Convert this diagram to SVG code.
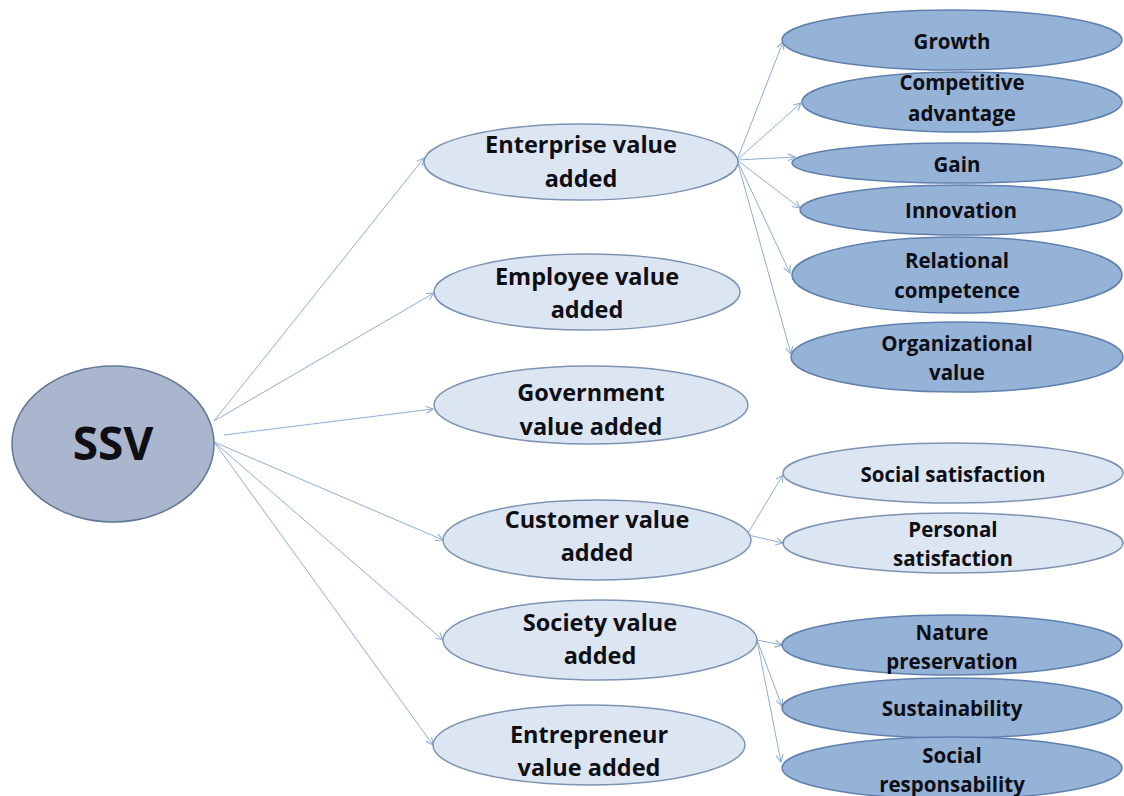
<svg xmlns="http://www.w3.org/2000/svg" width="1124" height="796" viewBox="0 0 1124 796">
  <defs>
    <marker id="arrow" viewBox="0 0 10 10" refX="9" refY="5" markerWidth="9" markerHeight="9" markerUnits="userSpaceOnUse" orient="auto">
      <path d="M1,1 L9,5 L1,9" fill="none" stroke="#8eaed6" stroke-width="1.2"/>
    </marker>
  </defs>
  <style>
    text { font-family: "Open Sans", "Liberation Sans", sans-serif; font-weight: bold; fill: #0e0e14; text-anchor: middle; }
    .root { fill: #a9b6cd; stroke: #617796; stroke-width: 1.5; }
    .mid { fill: #dce6f2; stroke: #7d93b2; stroke-width: 1.5; }
    .leaf { fill: #95b3d7; stroke: #5f7fae; stroke-width: 1.5; }
    .leaf-light { fill: #dce6f2; stroke: #7d93b2; stroke-width: 1.5; }
    .t-root { font-size: 46px; }
    .t-mid { font-size: 23.5px; }
    .t-leaf { font-size: 20.5px; }
    .edge { fill: none; stroke: #8eaed6; stroke-width: 1; marker-end: url(#arrow); }
  </style>
  <rect width="1124" height="796" fill="#ffffff"/>

  <!-- connectors -->
  <g id="connectors">
    <line class="edge" x1="214" y1="421" x2="424" y2="158"/>
    <line class="edge" x1="214" y1="421" x2="434" y2="293"/>
    <line class="edge" x1="224" y1="435" x2="433" y2="409"/>
    <line class="edge" x1="214" y1="442" x2="443" y2="540"/>
    <line class="edge" x1="214" y1="442" x2="443" y2="640"/>
    <line class="edge" x1="214" y1="442" x2="433" y2="745"/>

    <line class="edge" x1="737" y1="160" x2="783" y2="42"/>
    <line class="edge" x1="737" y1="160" x2="801" y2="103"/>
    <line class="edge" x1="737" y1="160" x2="795" y2="157"/>
    <line class="edge" x1="737" y1="160" x2="800" y2="208"/>
    <line class="edge" x1="737" y1="160" x2="790" y2="273"/>
    <line class="edge" x1="737" y1="160" x2="791" y2="354"/>

    <line class="edge" x1="748" y1="533" x2="783" y2="475"/>
    <line class="edge" x1="748" y1="535" x2="783" y2="543"/>

    <line class="edge" x1="757" y1="640" x2="782" y2="645"/>
    <line class="edge" x1="757" y1="640" x2="782" y2="706"/>
    <line class="edge" x1="757" y1="640" x2="781" y2="762"/>
  </g>

  <!-- root -->
  <g id="ssv">
    <ellipse class="root" cx="113" cy="444" rx="101" ry="78"/>
    <text class="t-root" x="113" y="460">SSV</text>
  </g>

  <!-- value-added categories -->
  <g id="enterprise">
    <ellipse class="mid" cx="581" cy="162" rx="157" ry="38"/>
    <text class="t-mid" x="581" y="153">Enterprise value</text>
    <text class="t-mid" x="581" y="187">added</text>
  </g>
  <g id="employee">
    <ellipse class="mid" cx="587" cy="292" rx="153" ry="38"/>
    <text class="t-mid" x="587" y="285">Employee value</text>
    <text class="t-mid" x="587" y="318">added</text>
  </g>
  <g id="government">
    <ellipse class="mid" cx="591" cy="405" rx="157" ry="39"/>
    <text class="t-mid" x="591" y="401">Government</text>
    <text class="t-mid" x="591" y="435">value added</text>
  </g>
  <g id="customer">
    <ellipse class="mid" cx="597" cy="540" rx="154" ry="40"/>
    <text class="t-mid" x="597" y="528">Customer value</text>
    <text class="t-mid" x="597" y="561">added</text>
  </g>
  <g id="society">
    <ellipse class="mid" cx="600" cy="640" rx="157" ry="40"/>
    <text class="t-mid" x="600" y="631">Society value</text>
    <text class="t-mid" x="600" y="664">added</text>
  </g>
  <g id="entrepreneur">
    <ellipse class="mid" cx="589" cy="745" rx="156" ry="40"/>
    <text class="t-mid" x="589" y="743">Entrepreneur</text>
    <text class="t-mid" x="589" y="776">value added</text>
  </g>

  <!-- enterprise outcomes -->
  <g id="growth">
    <ellipse class="leaf" cx="952" cy="40" rx="170" ry="30"/>
    <text class="t-leaf" x="952" y="49">Growth</text>
  </g>
  <g id="competitive-advantage">
    <ellipse class="leaf" cx="962" cy="102" rx="160" ry="30"/>
    <text class="t-leaf" x="962" y="90">Competitive</text>
    <text class="t-leaf" x="962" y="121">advantage</text>
  </g>
  <g id="gain">
    <ellipse class="leaf" cx="957" cy="163" rx="165" ry="20"/>
    <text class="t-leaf" x="957" y="172">Gain</text>
  </g>
  <g id="innovation">
    <ellipse class="leaf" cx="961" cy="210" rx="161" ry="25"/>
    <text class="t-leaf" x="961" y="218">Innovation</text>
  </g>
  <g id="relational-competence">
    <ellipse class="leaf" cx="957" cy="275" rx="165" ry="38"/>
    <text class="t-leaf" x="957" y="268">Relational</text>
    <text class="t-leaf" x="957" y="298">competence</text>
  </g>
  <g id="organizational-value">
    <ellipse class="leaf" cx="957" cy="357" rx="166" ry="35"/>
    <text class="t-leaf" x="957" y="351">Organizational</text>
    <text class="t-leaf" x="957" y="380">value</text>
  </g>

  <!-- customer outcomes -->
  <g id="social-satisfaction">
    <ellipse class="leaf-light" cx="953" cy="473" rx="170" ry="30"/>
    <text class="t-leaf" x="953" y="482">Social satisfaction</text>
  </g>
  <g id="personal-satisfaction">
    <ellipse class="leaf-light" cx="953" cy="543" rx="170" ry="30"/>
    <text class="t-leaf" x="953" y="537">Personal</text>
    <text class="t-leaf" x="953" y="566">satisfaction</text>
  </g>

  <!-- society outcomes -->
  <g id="nature-preservation">
    <ellipse class="leaf" cx="952" cy="645" rx="170" ry="30"/>
    <text class="t-leaf" x="952" y="640">Nature</text>
    <text class="t-leaf" x="952" y="669">preservation</text>
  </g>
  <g id="sustainability">
    <ellipse class="leaf" cx="952" cy="708" rx="170" ry="30"/>
    <text class="t-leaf" x="952" y="716">Sustainability</text>
  </g>
  <g id="social-responsability">
    <ellipse class="leaf" cx="952" cy="768" rx="170" ry="31"/>
    <text class="t-leaf" x="952" y="763">Social</text>
    <text class="t-leaf" x="952" y="792">responsability</text>
  </g>
</svg>
